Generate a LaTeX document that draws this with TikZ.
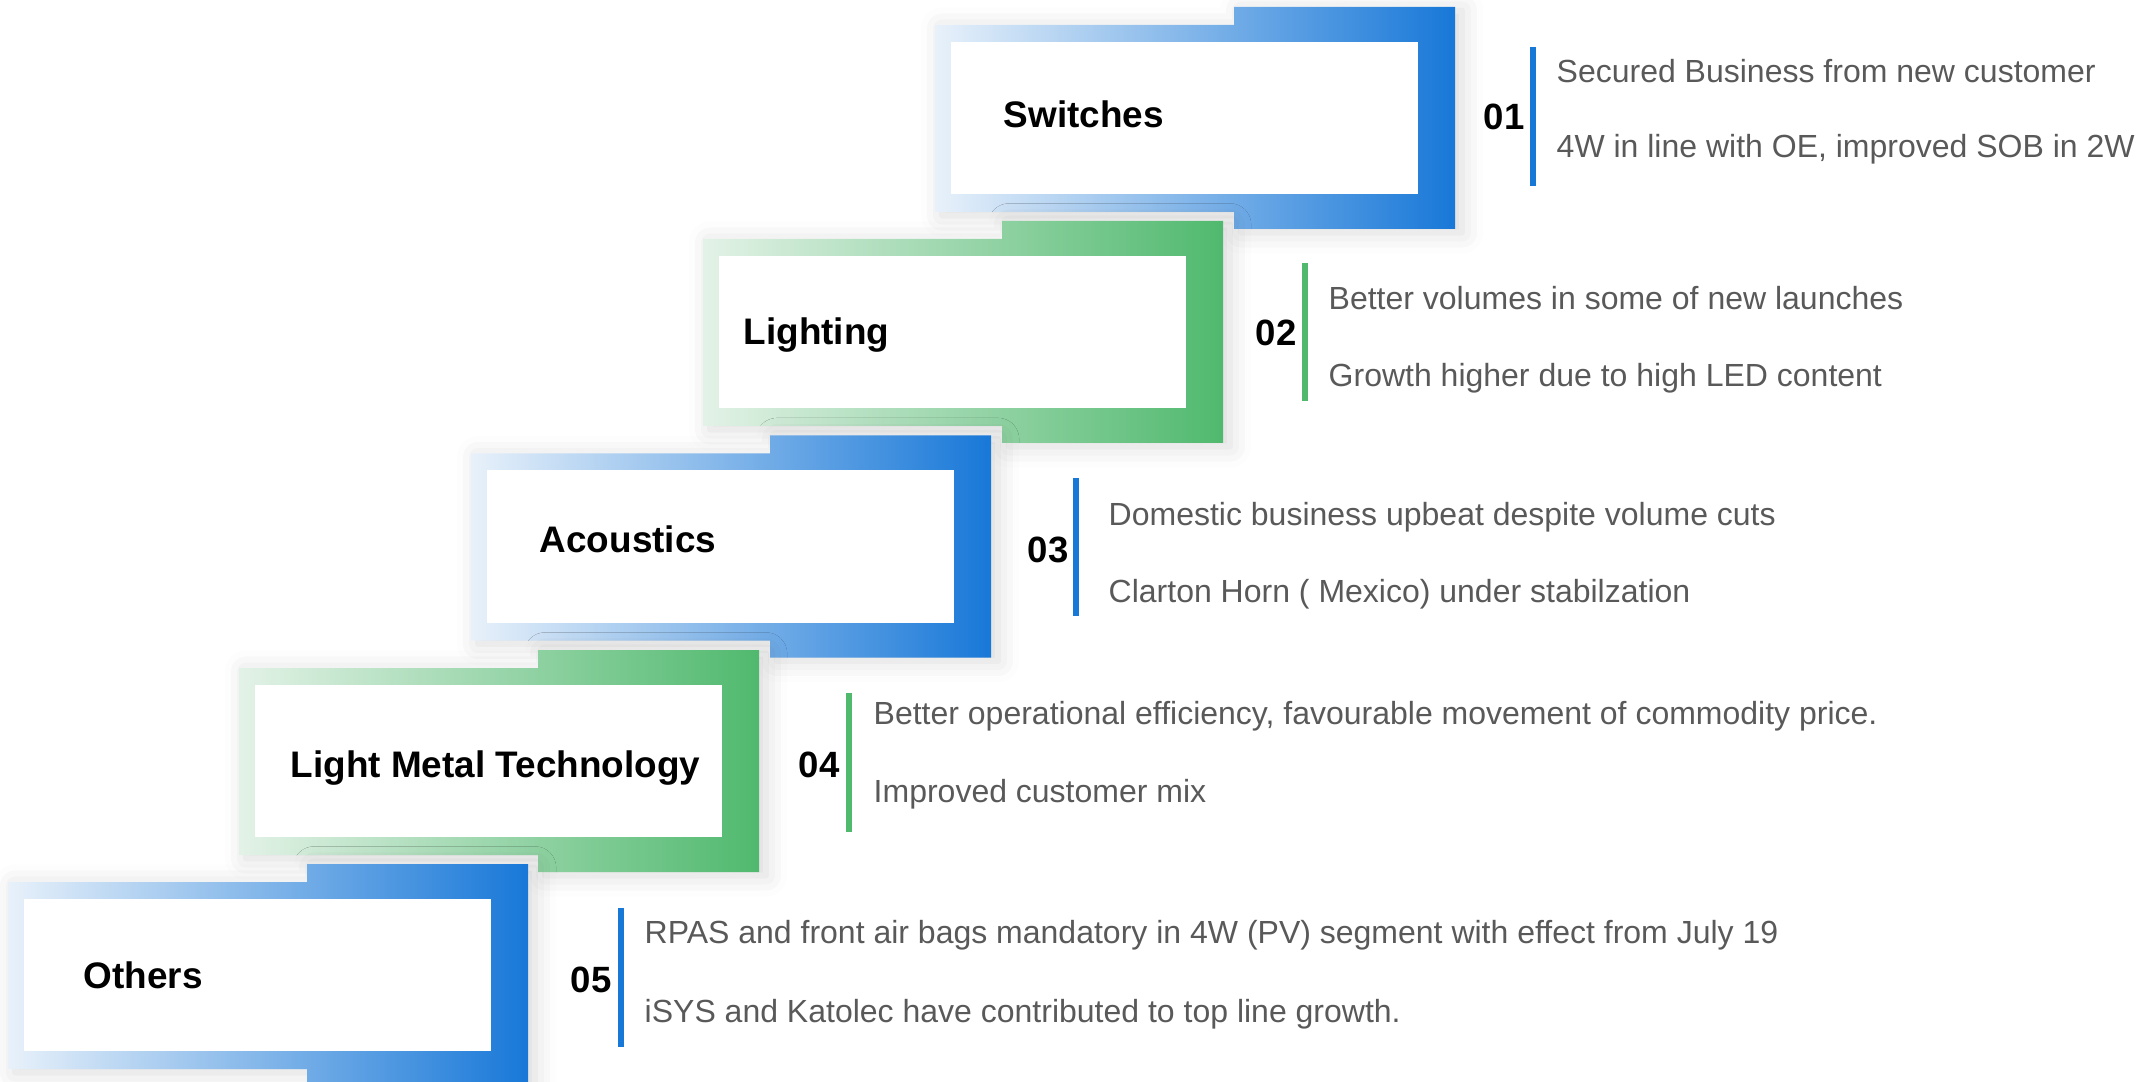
\documentclass[tikz,border=0pt]{standalone}
\usepackage{fontspec}
\setmainfont{Liberation Sans}
\usetikzlibrary{shadows.blur}

\definecolor{stepblue}{HTML}{1878D8}
\definecolor{stepbluelt}{HTML}{E8F1FA}
\definecolor{stepgreen}{HTML}{50B96E}
\definecolor{stepgreenlt}{HTML}{E3F2E7}
\definecolor{notegray}{HTML}{595959}

\begin{document}
\begin{tikzpicture}[x=0.01cm,y=-0.01cm,
    frame/.style={left color=#1lt, right color=#1,
        blur shadow={shadow xshift=2pt, shadow yshift=-1pt, shadow blur radius=6pt, shadow opacity=15}},
    box/.style={fill=white, minimum width=4.67cm, minimum height=1.52cm, inner sep=0pt},
    label/.style={anchor=base west, inner sep=0pt, font=\fontsize{10.5}{12}\selectfont\bfseries},
    num/.style={anchor=base west, inner sep=0pt, font=\fontsize{10.4}{12}\selectfont\bfseries},
    note/.style={anchor=base west, inner sep=0pt, text=notegray, font=\fontsize{9.1}{11}\selectfont},
    notebar/.style={line width=1.7pt}]
    \clip (0,0) rectangle (2150,1082);

    % step frames
    \path[frame=stepblue]  (935,25) -- ++(299,0) -- ++(0,-18) -- ++(221,0) -- ++(0,222) -- ++(-221,0) -- ++(0,-17) -- ++(-299,0) -- cycle;
    \path[frame=stepgreen] (703,239) -- ++(299,0) -- ++(0,-18) -- ++(221,0) -- ++(0,222) -- ++(-221,0) -- ++(0,-17) -- ++(-299,0) -- cycle;
    \path[frame=stepblue]  (471,453.5) -- ++(299,0) -- ++(0,-18) -- ++(221,0) -- ++(0,222) -- ++(-221,0) -- ++(0,-17) -- ++(-299,0) -- cycle;
    \path[frame=stepgreen] (239,668) -- ++(299,0) -- ++(0,-18) -- ++(221,0) -- ++(0,222) -- ++(-221,0) -- ++(0,-17) -- ++(-299,0) -- cycle;
    \path[frame=stepblue]  (8,882) -- ++(299,0) -- ++(0,-18) -- ++(221,0) -- ++(0,222) -- ++(-221,0) -- ++(0,-17) -- ++(-299,0) -- cycle;

    % white boxes
    \node[box] (switches)   at (1184.5,118) {};
    \node[box] (lighting)   at (952.5,332) {};
    \node[box] (acoustics)  at (720.5,546.5) {};
    \node[box] (lightmetal) at (488.5,761) {};
    \node[box] (others)     at (257.5,975) {};

    \node[label] (switcheslab)   at (1003,128) {Switches};
    \node[label] (lightinglab)   at (743,345) {Lighting};
    \node[label] (acousticslab)  at (539,553) {Acoustics};
    \node[label] (lightmetallab) at (290,777) {Light Metal Technology};
    \node[label] (otherslab)     at (83,988) {Others};

    % numbers
    \node[num] (n01) at (1483,130) {01};
    \node[num] (n02) at (1255,346) {02};
    \node[num] (n03) at (1027,562) {03};
    \node[num] (n04) at (798,777) {04};
    \node[num] (n05) at (570,992) {05};

    % bars
    \draw[notebar, stepblue]  (1533,47) -- (1533,186);
    \draw[notebar, stepgreen] (1305,263) -- (1305,401);
    \draw[notebar, stepblue]  (1076,478) -- (1076,616);
    \draw[notebar, stepgreen] (849,693) -- (849,832);
    \draw[notebar, stepblue]  (621,908) -- (621,1047);

    % notes
    \node[note] (t01a) at (1556,83) {Secured Business from new customer};
    \node[note] (t01b) at (1556,158) {4W in line with OE, improved SOB in 2W};
    \node[note] (t02a) at (1328,310) {Better volumes in some of new launches};
    \node[note] (t02b) at (1328,387) {Growth higher due to high LED content};
    \node[note] (t03a) at (1108,526) {Domestic business upbeat despite volume cuts};
    \node[note] (t03b) at (1108,603) {Clarton Horn ( Mexico) under stabilzation};
    \node[note] (t04a) at (873,725) {Better operational efficiency, favourable movement of commodity price.};
    \node[note] (t04b) at (873,802) {Improved customer mix};
    \node[note] (t05a) at (644,943) {RPAS and front air bags mandatory in 4W (PV) segment with effect from July 19};
    \node[note] (t05b) at (644,1022) {iSYS and Katolec have contributed to top line growth.};
\end{tikzpicture}
\end{document}
